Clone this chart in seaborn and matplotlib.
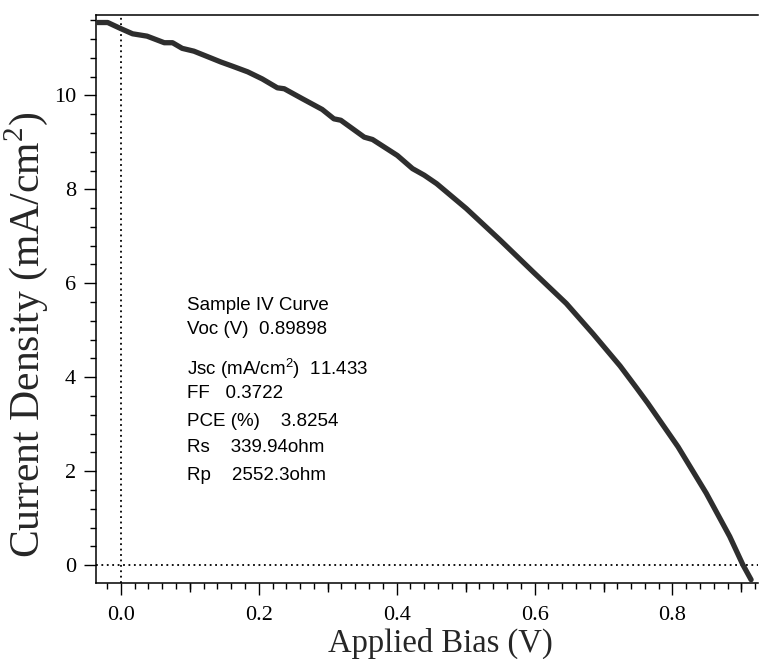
import numpy as np
import pandas as pd
import matplotlib
matplotlib.use("Agg")
import matplotlib.pyplot as plt
import seaborn as sns
from matplotlib.ticker import MultipleLocator

# ---- data ----
bias_v = [-0.034, -0.019, 0.0, 0.017, 0.038, 0.063, 0.075, 0.089, 0.106, 0.123,
          0.145, 0.162, 0.184, 0.205, 0.227, 0.237, 0.263, 0.292, 0.309, 0.319,
          0.353, 0.365, 0.401, 0.423, 0.440, 0.458, 0.501, 0.550, 0.598, 0.646,
          0.685, 0.724, 0.748, 0.764, 0.808, 0.849, 0.883, 0.902, 0.914]
current_density = [11.55, 11.55, 11.42, 11.31, 11.26, 11.12, 11.12, 11.00, 10.94, 10.84,
                   10.71, 10.62, 10.50, 10.35, 10.16, 10.14, 9.93, 9.70, 9.50, 9.47,
                   9.11, 9.06, 8.72, 8.44, 8.30, 8.12, 7.59, 6.92, 6.24, 5.57,
                   4.92, 4.24, 3.77, 3.45, 2.52, 1.53, 0.61, 0.01, -0.31]

x_ticks = [0.0, 0.2, 0.4, 0.6, 0.8]
x_tick_labels = ["0.0", "0.2", "0.4", "0.6", "0.8"]
y_ticks = [0, 2, 4, 6, 8, 10]
y_tick_labels = ["0", "2", "4", "6", "8", "10"]

info_lines = [
    "Sample IV Curve",
    "Voc (V)  0.89898",
    "Jsc (mA/cm$^{\\mathregular{2}}$)  11.433",
    "FF   0.3722",
    "PCE (%)    3.8254",
    "Rs    339.94ohm",
    "Rp    2552.3ohm",
]
info_y_px = [306, 330, 369, 394, 421, 448, 475]

df = pd.DataFrame({"V": bias_v, "J": current_density})

sns.set_style("ticks")
plt.rcParams["font.family"] = ["Liberation Serif", "DejaVu Serif"]

W, H = 759, 659
fig = plt.figure(figsize=(W / 100, H / 100), dpi=100)
ax = fig.add_axes([96 / W, 1 - 583 / H, (758 - 96) / W, (583 - 15) / H])

ax.axvline(0, color="black", lw=1.3, ls=(0, (1, 2)), zorder=1)
ax.axhline(0, color="black", lw=1.3, ls=(0, (1, 2)), zorder=1)

sns.lineplot(data=df, x="V", y="J", ax=ax, sort=False, estimator=None,
             color="#2e2e2e", lw=3.8, zorder=3, legend=False)

ax.set_xlim(-0.036, 0.924)
ax.set_ylim(-0.38, 11.71)

ax.set_xticks(x_ticks)
ax.set_xticklabels(x_tick_labels)
ax.set_yticks(y_ticks)
ax.set_yticklabels(y_tick_labels)
ax.xaxis.set_minor_locator(MultipleLocator(0.02))
ax.yaxis.set_minor_locator(MultipleLocator(0.4))

for side in ["left", "bottom", "top"]:
    ax.spines[side].set_visible(True)
    ax.spines[side].set_linewidth(1.1)
    ax.spines[side].set_color("black")
ax.spines["right"].set_visible(False)

ax.tick_params(axis="both", which="major", direction="out", length=8.5, width=1.0,
               colors="black", labelsize=16, pad=6)
ax.tick_params(axis="x", which="major", pad=8)
ax.tick_params(axis="both", which="minor", direction="out", length=4.5, width=1.0,
               colors="black")
ax.tick_params(axis="x", which="both", top=False)
ax.tick_params(axis="y", which="both", right=False)

# medium ticks at odd tenths
sec = ax.secondary_xaxis("bottom")
sec.set_xticks([0.1, 0.3, 0.5, 0.7, 0.9])
sec.set_xticklabels([])
sec.tick_params(which="major", direction="out", length=6.5, width=1.0, colors="black")
sec.spines["bottom"].set_visible(False)

ax.set_xlabel("Applied Bias (V)", fontsize=23.5)
ax.set_ylabel("Current Density (mA/cm$^{\\mathregular{2}}$)", fontsize=30)
ax.xaxis.set_label_coords(0.52, -0.079)
ax.yaxis.set_label_coords(-0.07, 0.436)

for txt, ypx in zip(info_lines, info_y_px):
    fig.text(187 / W, 1 - ypx / H, txt, ha="left", va="center", fontsize=13.5,
             family=["Liberation Sans", "DejaVu Sans"], color="black")

fig.savefig("out.png", dpi=100)
